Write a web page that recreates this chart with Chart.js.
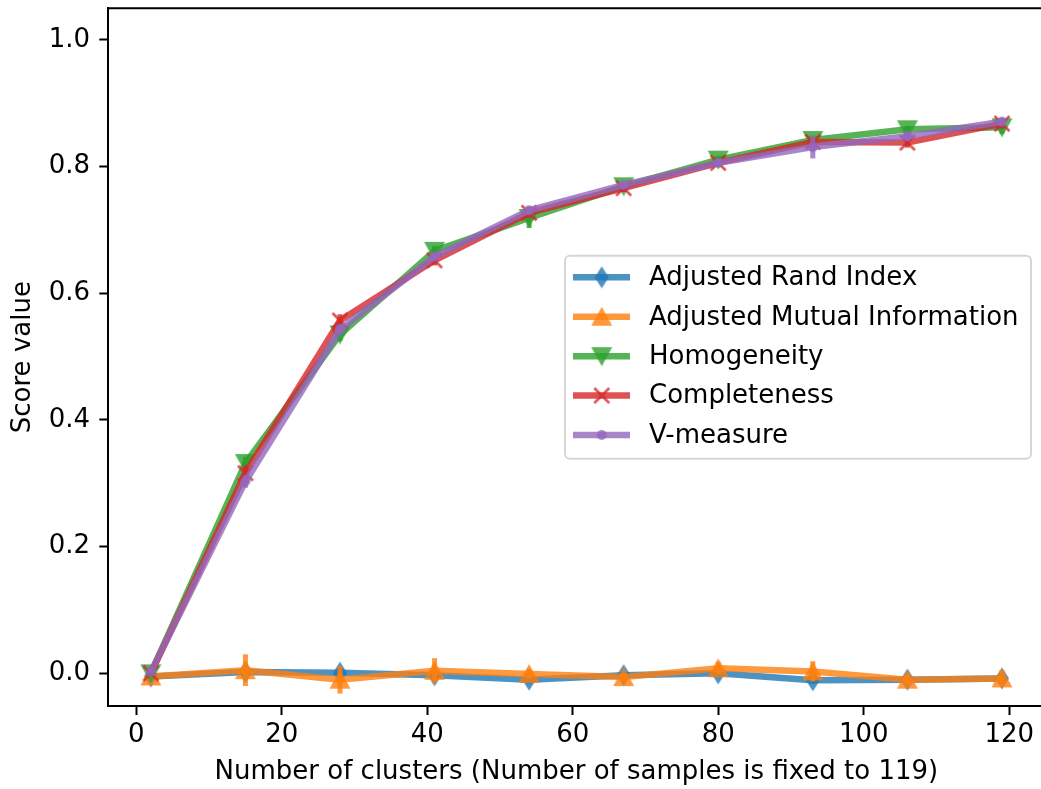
<!DOCTYPE html>
<html>
<head>
<meta charset="utf-8">
<script src="https://cdn.jsdelivr.net/npm/chart.js@4.4.1/dist/chart.umd.min.js"></script>
<style>
  html, body { margin: 0; padding: 0; background: #fff; overflow: hidden; }
  #chart { display: block; }
</style>
</head>
<body>
<canvas id="chart" width="1045" height="789"></canvas>
<script>
// data
const clusters = [2, 15, 28, 41, 54, 67, 80, 93, 106, 119];

const ari          = [-0.005, 0.002, 0.001, -0.003, -0.010, -0.003, 0.000, -0.011, -0.010, -0.008];
const ami          = [-0.005, 0.005, -0.010, 0.004, -0.001, -0.006, 0.008, 0.003, -0.010, -0.008];
const homogeneity  = [0.000, 0.332, 0.535, 0.667, 0.719, 0.769, 0.811, 0.842, 0.859, 0.862];
const completeness = [0.000, 0.316, 0.557, 0.652, 0.727, 0.766, 0.806, 0.839, 0.838, 0.868];
const vmeasure     = [0.002, 0.303, 0.543, 0.658, 0.731, 0.771, 0.806, 0.831, 0.848, 0.871];

// standard deviations (error bars)
const ariErr  = [0.004, 0.012, 0.008, 0.006, 0.006, 0.005, 0.006, 0.005, 0.007, 0.008];
const amiErr  = [0.004, 0.025, 0.022, 0.020, 0.008, 0.006, 0.010, 0.016, 0.008, 0.013];
const homErr  = [0.003, 0.010, 0.010, 0.008, 0.016, 0.006, 0.006, 0.006, 0.005, 0.010];
const comErr  = [0.003, 0.012, 0.010, 0.008, 0.008, 0.006, 0.006, 0.006, 0.008, 0.008];
const vmErr   = [0.002, 0.010, 0.008, 0.006, 0.006, 0.005, 0.006, 0.018, 0.008, 0.006];

const xTicks = [0, 20, 40, 60, 80, 100, 120];
const yTicks = [0.0, 0.2, 0.4, 0.6, 0.8, 1.0];

const FONT = "'DejaVu Sans', sans-serif";
const FONT_SIZE = 26;

// marker images (matplotlib-like)
function makeMarker(kind, color) {
  const c = document.createElement('canvas');
  c.width = 28; c.height = 28;
  const g = c.getContext('2d');
  const m = 14;
  g.fillStyle = color;
  g.strokeStyle = color;
  g.beginPath();
  if (kind === 'd') {
    g.moveTo(m, m - 11); g.lineTo(m + 7, m); g.lineTo(m, m + 11); g.lineTo(m - 7, m);
    g.closePath(); g.fill();
  } else if (kind === '^') {
    g.moveTo(m, m - 10); g.lineTo(m + 10.5, m + 9); g.lineTo(m - 10.5, m + 9);
    g.closePath(); g.fill();
  } else if (kind === 'v') {
    g.moveTo(m, m + 10); g.lineTo(m + 10.5, m - 9); g.lineTo(m - 10.5, m - 9);
    g.closePath(); g.fill();
  } else if (kind === 'x') {
    g.lineWidth = 2.6;
    g.moveTo(m - 7.5, m - 7.5); g.lineTo(m + 7.5, m + 7.5);
    g.moveTo(m + 7.5, m - 7.5); g.lineTo(m - 7.5, m + 7.5);
    g.stroke();
  } else {
    g.arc(m, m, 5, 0, Math.PI * 2);
    g.fill();
  }
  return c;
}

const series = [
  { label: 'Adjusted Rand Index', values: ari, err: ariErr, color: 'rgba(31,119,180,0.8)', marker: 'd' },
  { label: 'Adjusted Mutual Information', values: ami, err: amiErr, color: 'rgba(255,127,14,0.8)', marker: '^' },
  { label: 'Homogeneity', values: homogeneity, err: homErr, color: 'rgba(44,160,44,0.8)', marker: 'v' },
  { label: 'Completeness', values: completeness, err: comErr, color: 'rgba(214,39,40,0.8)', marker: 'x' },
  { label: 'V-measure', values: vmeasure, err: vmErr, color: 'rgba(148,103,189,0.8)', marker: '.' }
];

const datasets = series.map((s, i) => ({
  label: s.label,
  data: clusters.map((x, j) => ({ x: x, y: s.values[j] })),
  errors: s.err,
  borderColor: s.color,
  backgroundColor: s.color,
  borderWidth: 6.5,
  pointStyle: makeMarker(s.marker, s.color),
  // the marker image sets the drawn size; keep radius tiny so layout adds no overflow padding
  pointRadius: 0.5,
  pointHoverRadius: 0.5,
  pointBorderWidth: 0,
  fill: false,
  tension: 0,
  order: series.length - i   // later series drawn on top, like matplotlib
}));

// vertical error bars, drawn with each dataset
const errorBars = {
  id: 'errorBars',
  beforeDatasetDraw(chart, args) {
    const ds = chart.data.datasets[args.index];
    const ys = chart.scales.y;
    const ctx = chart.ctx;
    ctx.save();
    ctx.strokeStyle = ds.borderColor;
    ctx.lineWidth = 5;
    args.meta.data.forEach((pt, j) => {
      const v = ds.data[j].y, e = ds.errors[j];
      ctx.beginPath();
      ctx.moveTo(pt.x, ys.getPixelForValue(v - e));
      ctx.lineTo(pt.x, ys.getPixelForValue(v + e));
      ctx.stroke();
    });
    ctx.restore();
  }
};

// top / right spines (right one ends up just past the window) and the legend box
const frameAndLegend = {
  id: 'frameAndLegend',
  afterDraw(chart) {
    const ctx = chart.ctx;
    const a = chart.chartArea;
    ctx.save();
    ctx.strokeStyle = '#000';
    ctx.lineWidth = 2;
    ctx.beginPath();
    ctx.moveTo(a.left, a.top); ctx.lineTo(a.right, a.top); ctx.lineTo(a.right, a.bottom);
    ctx.stroke();

    const w = 466, h = 203;
    const bx = a.right - 13.5 - w;
    const by = (a.top + a.bottom) / 2 - h / 2;
    ctx.beginPath();
    ctx.roundRect(bx, by, w, h, 5);
    ctx.fillStyle = 'rgba(255,255,255,0.8)';
    ctx.fill();
    ctx.strokeStyle = 'rgba(204,204,204,0.8)';
    ctx.lineWidth = 2;
    ctx.stroke();

    ctx.font = FONT_SIZE + 'px ' + FONT;
    ctx.textBaseline = 'middle';
    ctx.textAlign = 'left';
    chart.data.datasets.forEach((ds, i) => {
      const y = by + 21.7 + i * 39.4;
      ctx.strokeStyle = ds.borderColor;
      ctx.lineWidth = 6.5;
      ctx.beginPath();
      ctx.moveTo(bx + 8, y); ctx.lineTo(bx + 65, y);
      ctx.stroke();
      const img = ds.pointStyle;
      ctx.drawImage(img, bx + 36.7 - img.width / 2, y - img.height / 2);
      ctx.fillStyle = '#000';
      ctx.fillText(ds.label, bx + 84, y + 1);
    });
    ctx.restore();
  }
};

const axisGrid = {
  display: true,
  drawOnChartArea: false,
  drawTicks: true,
  tickLength: 9,
  tickWidth: 2,
  tickColor: '#000'
};

new Chart(document.getElementById('chart').getContext('2d'), {
  type: 'line',
  data: { datasets: datasets },
  options: {
    responsive: false,
    animation: false,
    events: [],
    layout: { padding: { left: 0, right: 0, top: 8.3, bottom: 0 } },
    plugins: {
      legend: { display: false },
      tooltip: { enabled: false }
    },
    scales: {
      x: {
        type: 'linear',
        min: -3.85,
        max: 124.85,
        border: { display: true, color: '#000', width: 2 },
        grid: axisGrid,
        afterBuildTicks: (scale) => { scale.ticks = xTicks.map(v => ({ value: v })); },
        afterFit: (scale) => {
          scale.height = 83;
          scale.paddingLeft = 0; scale.paddingRight = 0;
        },
        ticks: {
          autoSkip: false, maxRotation: 0, padding: 5,
          color: '#000', font: { family: FONT, size: FONT_SIZE },
          callback: (v) => String(v)
        },
        title: {
          display: true,
          text: 'Number of clusters (Number of samples is fixed to 119)',
          color: '#000',
          font: { family: FONT, size: FONT_SIZE },
          padding: { top: 0, bottom: 1 }
        }
      },
      y: {
        type: 'linear',
        min: -0.0516,
        max: 1.05,
        border: { display: true, color: '#000', width: 2 },
        grid: axisGrid,
        afterBuildTicks: (scale) => { scale.ticks = yTicks.map(v => ({ value: v })); },
        afterFit: (scale) => {
          scale.width = 108.3;
          scale.paddingTop = 0; scale.paddingBottom = 0;
        },
        ticks: {
          autoSkip: false, padding: 9.3,
          color: '#000', font: { family: FONT, size: FONT_SIZE },
          callback: (v) => v.toFixed(1)
        },
        title: {
          display: true,
          text: 'Score value',
          color: '#000',
          font: { family: FONT, size: FONT_SIZE },
          padding: { top: 7.4, bottom: 0 }
        }
      }
    }
  },
  plugins: [errorBars, frameAndLegend]
});
</script>
</body>
</html>
